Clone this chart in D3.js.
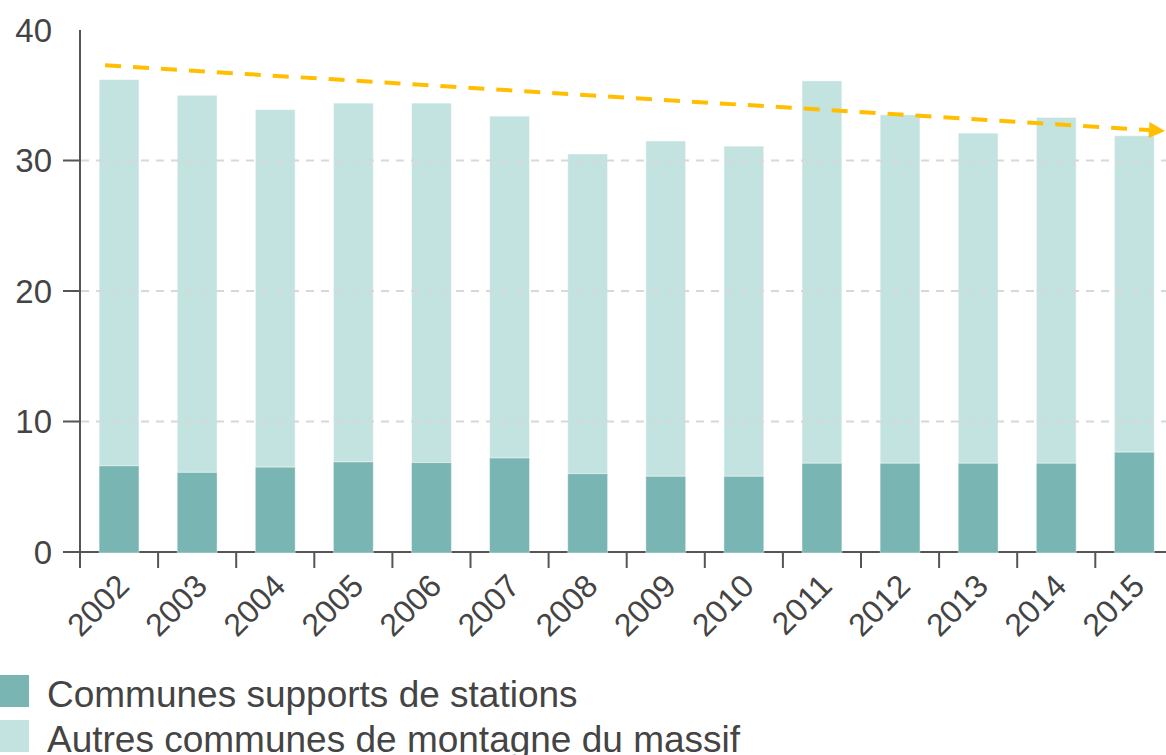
<!DOCTYPE html>
<html>
<head>
<meta charset="utf-8">
<script src="https://cdn.jsdelivr.net/npm/d3@7"></script>
<style>
  body{margin:0;background:#fff;}
  text{font-family:"Liberation Sans",Arial,Helvetica,sans-serif;}
</style>
</head>
<body>
<div id="graphique"></div>
<script>
// stacked bars : communes supports de stations vs autres communes de montagne
var years=["2002","2003","2004","2005","2006","2007","2008","2009","2010","2011","2012","2013","2014","2015"];
var stations=[6.6,6.1,6.5,6.9,6.85,7.2,6.0,5.8,5.8,6.8,6.8,6.8,6.8,7.65];
var totals=[36.2,35.0,33.9,34.4,34.4,33.4,30.5,31.5,31.1,36.1,33.5,32.1,33.3,31.9];
var yTicks=[0,10,20,30,40];
var gridTicks=[10,20,30];
var trend=[37.3,32.26];   // start / end of the dashed trend arrow
var legendLabels=["Communes supports de stations","Autres communes de montagne du massif"];

var width=1166, height=755;
var mLeft=80, mBottom=552, mTop=30;
var colDark="#78b5b3", colLight="#c3e3e1", axisCol="#555", textCol="#444";

var x_scale=d3.scaleBand().domain(years)
    .range([mLeft,mLeft+14*78.1])
    .paddingInner(0.49).paddingOuter(0.245);
var y_scale=d3.scaleLinear().domain([0,40]).range([mBottom,mTop]);
var step=x_scale.step();

var svg=d3.select("#graphique").append("svg")
    .attr("width",width).attr("height",height);

// axes lines + ticks
svg.append("line")
    .attr("x1",mLeft).attr("x2",mLeft).attr("y1",mTop).attr("y2",mBottom)
    .attr("stroke",axisCol).attr("stroke-width",2);
svg.append("line")
    .attr("x1",mLeft-17).attr("x2",width).attr("y1",mBottom).attr("y2",mBottom)
    .attr("stroke",axisCol).attr("stroke-width",2);

for (var i=0;i<yTicks.length;i++){
    var yy=y_scale(yTicks[i]);
    if (yTicks[i]>0 && yTicks[i]<40)
        svg.append("line")
            .attr("x1",mLeft-17).attr("x2",mLeft).attr("y1",yy).attr("y2",yy)
            .attr("stroke",axisCol).attr("stroke-width",2);
    svg.append("text")
        .attr("x",52).attr("y",yy).attr("dy","0.36em")
        .attr("text-anchor","end")
        .attr("font-size",33).attr("fill",textCol)
        .text(yTicks[i]);
}

for (var i=0;i<years.length;i++){
    var bx=x_scale(years[i])-(step-x_scale.bandwidth())/2;
    svg.append("line")
        .attr("x1",bx).attr("x2",bx).attr("y1",mBottom).attr("y2",mBottom+16)
        .attr("stroke",axisCol).attr("stroke-width",2);
    var cx=x_scale(years[i])+x_scale.bandwidth()/2;
    svg.append("g")
        .attr("transform","translate("+(cx+12)+","+(mBottom+36)+") rotate(-45)")
        .append("text")
        .attr("text-anchor","end")
        .attr("font-size",32).attr("fill",textCol)
        .text(years[i]);
}

// bars
for (var i=0;i<years.length;i++){
    var bx=x_scale(years[i]);
    svg.append("rect")
        .attr("x",bx).attr("width",x_scale.bandwidth())
        .attr("y",y_scale(totals[i])).attr("height",y_scale(stations[i])-y_scale(totals[i]))
        .attr("fill",colLight).attr("stroke","#fff").attr("stroke-opacity",0.5);
    svg.append("rect")
        .attr("x",bx).attr("width",x_scale.bandwidth())
        .attr("y",y_scale(stations[i])).attr("height",y_scale(0)-y_scale(stations[i])+1)
        .attr("fill",colDark).attr("stroke","#fff").attr("stroke-opacity",0.4);
}

// dashed grid drawn over the bars
for (var i=0;i<gridTicks.length;i++){
    var gy=y_scale(gridTicks[i]);
    svg.append("line")
        .attr("x1",mLeft+1).attr("x2",width).attr("y1",gy).attr("y2",gy)
        .attr("stroke","#d8d8d8").attr("stroke-width",2)
        .attr("stroke-dasharray","8,7");
}

// trend arrow
var tx0=x_scale(years[0])+x_scale.bandwidth()/2-14;
var tx1=width-1;
var ty0=y_scale(trend[0]), ty1=y_scale(trend[1]);
var ang=Math.atan2(ty1-ty0,tx1-tx0);
var headLen=16, headW=8;
var bxh=tx1-headLen*Math.cos(ang), byh=ty1-headLen*Math.sin(ang);
svg.append("line")
    .attr("x1",tx0).attr("y1",ty0).attr("x2",bxh).attr("y2",byh)
    .attr("stroke","#ffbf00").attr("stroke-width",4)
    .attr("stroke-dasharray","16,12");
svg.append("path")
    .attr("d","M "+tx1+","+ty1+
              " L "+(bxh+headW*Math.sin(ang))+","+(byh-headW*Math.cos(ang))+
              " L "+(bxh-headW*Math.sin(ang))+","+(byh+headW*Math.cos(ang))+" Z")
    .attr("fill","#ffbf00");

// legend
var legendCols=[colDark,colLight];
for (var i=0;i<legendLabels.length;i++){
    var ly=675+i*45;
    svg.append("rect")
        .attr("x",-4).attr("y",ly).attr("width",33).attr("height",32)
        .attr("fill",legendCols[i]);
    svg.append("text")
        .attr("x",47).attr("y",ly+32)
        .attr("font-size",37).attr("fill",textCol)
        .text(legendLabels[i]);
}
</script>
</body>
</html>
